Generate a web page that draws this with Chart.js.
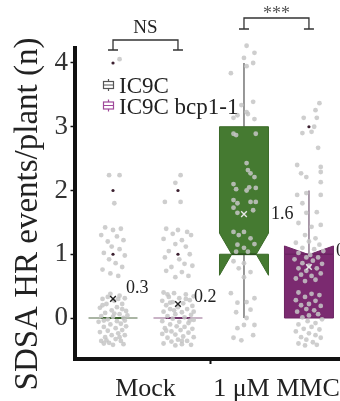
<!DOCTYPE html>
<html>
<head>
<meta charset="utf-8">
<script src="https://cdn.jsdelivr.net/npm/chart.js@4.4.0/dist/chart.umd.min.js"></script>
<style>
  html, body { margin: 0; padding: 0; background: #fff; overflow: hidden; }
  #wrap { width: 340px; height: 401px; overflow: hidden; }
</style>
</head>
<body>
<div id="wrap"><canvas id="chart" width="360" height="401"></canvas></div>
<script>
const categories = ["Mock", "1 \u03bcM MMC"];
const seriesNames = ["IC9C", "IC9C bcp1-1"];
const yTicks = [0, 1, 2, 3, 4];

// one entry per box: Mock/IC9C, Mock/bcp1-1, MMC/IC9C, MMC/bcp1-1
const boxCat = [1, 1, 2, 2];
const boxSeries = [0, 1, 0, 1];
const q1 = [0, 0, 1, 0];
const median = [0, 0, 1, 1];
const q3 = [0, 0, 3, 1];
const notchLo = [0, 0, 0.67, 1];
const notchHi = [0, 0, 1.33, 1.13];
const whiskerLo = [0, 0, 0, 0];
const whiskerHi = [0, 0, 4, 2];
const means = [0.3, 0.22, 1.63, 0.8];

// dark percentile markers
const markBox = [0, 0, 0, 1, 1, 3];
const markValue = [4, 2, 1, 2, 1, 3];

// significance brackets
const sigText = ["NS", "***"];
const sigPairs = [[0, 1], [2, 3]];

// raw plants: [jitter, events]
const ptsMockIC9C = [
  [0.05,4.06],
  [-0.03,2.24],[0.05,2.24],[0.01,1.80],
  [-0.06,1.42],[0.00,1.38],[0.06,1.40],[-0.09,1.30],[0.03,1.28],[-0.04,1.20],[0.08,1.22],[-0.01,1.12],
  [0.05,1.08],[-0.07,1.02],[0.09,0.98],[-0.03,0.92],[0.02,0.86],[0.07,0.80],[-0.08,0.76],[-0.02,0.70],[0.04,0.66],
  [-0.02,0.38],[0.05,0.35],[-0.08,0.30],[0.09,0.31],[0.01,0.27],[-0.05,0.22],[0.07,0.22],[-0.10,0.16],
  [0.03,0.17],[-0.01,0.12],[0.10,0.11],[-0.06,0.08],[0.05,0.06],[-0.09,0.03],[0.00,0.02],[0.08,0.00],
  [-0.04,-0.02],[0.03,-0.05],[-0.11,-0.06],[0.06,-0.09],[-0.02,-0.10],[0.10,-0.13],[-0.07,-0.14],[0.02,-0.16],
  [-0.04,-0.20],[0.07,-0.19],[-0.10,-0.22],[0.04,-0.24],[-0.01,-0.27],[0.09,-0.27],[-0.06,-0.30],[0.02,-0.33],
  [-0.09,-0.36],[0.06,-0.36],[-0.03,-0.39],[0.08,-0.41],[0.00,-0.42],[-0.07,-0.40],[0.04,0.30],[-0.04,0.33],
  [0.07,0.14],[-0.07,-0.04],[0.05,-0.30],[-0.08,0.20],[0.11,0.04],[-0.05,-0.35],[0.01,0.07],[0.09,-0.04]
];
const ptsMockBcp = [
  [0.02,2.24],[-0.02,2.12],[-0.10,1.82],[0.02,1.82],
  [-0.09,1.40],[0.00,1.38],[0.07,1.35],[-0.04,1.32],[0.10,1.30],[-0.11,1.24],[0.03,1.22],[-0.02,1.16],
  [0.06,1.12],[-0.07,1.05],[0.09,1.00],[-0.10,0.95],[0.01,0.92],[0.05,0.85],[-0.05,0.80],[0.11,0.82],
  [-0.09,0.74],[0.03,0.72],[0.08,0.66],[-0.02,0.64],
  [-0.11,0.40],[-0.03,0.39],[0.06,0.37],[0.12,0.34],[-0.07,0.33],[0.01,0.31],[-0.12,0.27],[0.09,0.28],
  [-0.04,0.25],[0.04,0.23],[-0.09,0.20],[0.11,0.19],[0.00,0.17],[-0.06,0.14],[0.07,0.14],[-0.11,0.10],
  [0.03,0.09],[-0.02,0.06],[0.10,0.05],[-0.08,0.03],[0.05,0.01],[-0.04,-0.01],[0.12,-0.03],[-0.12,-0.05],
  [0.01,-0.06],[0.08,-0.08],[-0.06,-0.10],[-0.01,-0.13],[0.05,-0.14],[-0.10,-0.16],[0.11,-0.17],[0.02,-0.19],
  [-0.05,-0.21],[0.08,-0.23],[-0.12,-0.25],[-0.02,-0.26],[0.04,-0.29],[0.12,-0.30],[-0.08,-0.31],[0.00,-0.34],
  [0.07,-0.36],[-0.05,-0.37],[-0.11,-0.40],[0.03,-0.41],[0.10,-0.42],[-0.02,-0.43],[0.06,0.30],[-0.08,0.37],
  [0.09,-0.04],[-0.03,0.12],[0.03,-0.36],[-0.09,-0.20],[0.12,0.10],[-0.06,0.24]
];
const ptsMmcIC9C = [
  [0.02,4.27],[0.08,4.16],[0.00,4.08],[0.07,4.00],[0.02,3.95],[-0.10,3.84],
  [-0.02,3.34],[0.07,3.39],[0.02,3.23],[-0.08,3.14],[-0.05,3.18],[0.03,3.20],[0.08,3.12],
  [-0.08,2.89],[-0.06,2.87],[0.09,2.89],
  [0.02,2.43],[0.03,2.32],[0.05,2.27],[0.08,2.21],[-0.08,2.10],[0.04,2.05],[0.09,2.04],[-0.06,2.02],[0.02,2.00],
  [-0.08,1.85],[-0.05,1.80],[0.05,1.82],[0.09,1.82],[-0.08,1.73],[-0.05,1.65],[0.07,1.69],
  [-0.08,1.35],[-0.04,1.30],[0.00,1.35],[0.05,1.25],[-0.05,1.15],[0.00,1.10],[-0.06,1.04],[0.03,1.04],[0.08,1.16],
  [-0.08,0.89],[0.00,0.86],[0.05,0.72],[0.00,0.64],[-0.04,0.78],
  [-0.10,0.39],[-0.05,0.24],[0.02,0.25],[0.08,0.31],[-0.06,0.09],[0.05,0.13],[0.02,0.00],[0.00,-0.11],
  [0.08,-0.11],[-0.08,-0.31],[0.07,-0.27],[-0.05,-0.16],[-0.02,-0.35]
];
const ptsMmcBcp = [
  [0.08,3.37],[0.05,3.26],[-0.04,3.14],[0.06,3.14],[0.04,3.00],[-0.05,2.90],[0.02,2.92],[0.07,2.67],
  [-0.09,2.40],[0.09,2.37],[-0.06,2.27],[-0.02,2.21],[0.09,2.29],[0.09,2.13],
  [-0.09,1.93],[-0.02,1.96],[0.09,1.93],[-0.05,1.80],[-0.02,1.65],[0.06,1.66],[-0.08,1.49],[0.02,1.43],
  [0.09,1.46],[-0.03,1.30],[0.05,1.25],
  [-0.10,1.18],[0.00,1.20],[0.08,1.15],[-0.05,1.10],[0.04,1.08],[0.11,1.05],[-0.08,1.02],[0.01,0.99],
  [-0.02,0.95],[0.07,0.95],[-0.11,0.92],[0.03,0.90],[-0.05,0.86],[0.10,0.85],[0.00,0.82],[-0.08,0.78],
  [0.06,0.78],[-0.02,0.74],[0.09,0.70],[-0.06,0.68],[0.02,0.66],[-0.10,0.62],[0.05,0.60],[-0.03,0.58],
  [-0.08,0.40],[0.02,0.38],[0.08,0.36],[-0.03,0.33],[-0.10,0.28],[0.05,0.27],[0.00,0.22],[-0.06,0.20],
  [0.09,0.19],[-0.02,0.14],[0.04,0.12],[-0.09,0.10],[0.07,0.06],[0.00,0.04],[-0.05,0.01],[0.10,-0.02],
  [-0.01,-0.05],[0.05,-0.08],[-0.08,-0.10],[0.02,-0.14],[-0.04,-0.17],[0.08,-0.18],[-0.10,-0.21],[0.00,-0.24],
  [0.05,-0.27],[-0.06,-0.30],[0.09,-0.31],[-0.02,-0.34],[0.03,-0.38],[-0.08,-0.40],[0.06,-0.42],[-0.03,-0.43]
];
const points = [ptsMockIC9C, ptsMockBcp, ptsMmcIC9C, ptsMmcBcp];

// styling
const FONT = '"Liberation Serif", "Times New Roman", serif';
const offset = 0.248, halfW = 0.187;
const notchW = [0.5, 0.5, 0.5, 0.95];
const boxFill = ["#dfe6da", "#e8dce6", "#457a31", "#7b2a70"];
const boxEdge = ["#8e9c86", "#b79ab3", "#3b6a29", "#6c2462"];
const medColor = ["#2f5a20", "#6a2a62", "#2c5220", "#5a1a52"];
const whiskerColor = ["#777", "#8f7a8f", "#767676", "#8f7a8f"];
const meanColor = ["#222", "#222", "#e6e6e6", "#e6e6e6"];
const labelDx = [13, 16, 27, 27];
const labelDy = [-11, -7, 0, -16];
const legendColor = ["#555", "#a0489a"];

function boxX(i) {
  return boxCat[i] + (boxSeries[i] === 0 ? -offset : offset);
}

const jitterData = [];
points.forEach((arr, i) => arr.forEach(p => jitterData.push({ x: boxX(i) + p[0], y: p[1] })));

const boxPlugin = {
  id: "boxes",
  beforeDatasetsDraw(chart) {
    const ctx = chart.ctx, xs = chart.scales.x, ys = chart.scales.y;
    for (let i = 0; i < boxCat.length; i++) {
      const cx = xs.getPixelForValue(boxX(i));
      const L = xs.getPixelForValue(boxX(i) - halfW);
      const R = xs.getPixelForValue(boxX(i) + halfW);
      const n = (R - L) / 2 * notchW[i];
      ctx.save();
      ctx.lineWidth = 1.5;
      ctx.strokeStyle = whiskerColor[i];
      ctx.beginPath();
      ctx.moveTo(cx, ys.getPixelForValue(q3[i]));
      ctx.lineTo(cx, ys.getPixelForValue(whiskerHi[i]));
      ctx.moveTo(cx, ys.getPixelForValue(q1[i]));
      ctx.lineTo(cx, ys.getPixelForValue(whiskerLo[i]));
      ctx.stroke();

      const yp = v => ys.getPixelForValue(v);
      if (q3[i] > q1[i]) {
        ctx.beginPath();
        ctx.moveTo(L, yp(q1[i]));
        ctx.lineTo(L, yp(notchLo[i]));
        ctx.lineTo(L + n, yp(median[i]));
        ctx.lineTo(L, yp(notchHi[i]));
        ctx.lineTo(L, yp(q3[i]));
        ctx.lineTo(R, yp(q3[i]));
        ctx.lineTo(R, yp(notchHi[i]));
        ctx.lineTo(R - n, yp(median[i]));
        ctx.lineTo(R, yp(notchLo[i]));
        ctx.lineTo(R, yp(q1[i]));
        ctx.closePath();
        ctx.fillStyle = boxFill[i];
        ctx.fill();
        ctx.lineWidth = 1;
        ctx.strokeStyle = boxEdge[i];
        ctx.stroke();
      } else {
        ctx.lineWidth = 1.5;
        ctx.strokeStyle = boxEdge[i];
        ctx.beginPath();
        ctx.moveTo(L, yp(median[i]));
        ctx.lineTo(R, yp(median[i]));
        ctx.stroke();
      }
      ctx.lineWidth = 1.8;
      ctx.strokeStyle = medColor[i];
      ctx.beginPath();
      ctx.moveTo(L + n, yp(median[i]));
      ctx.lineTo(R - n, yp(median[i]));
      ctx.stroke();
      ctx.restore();
    }
  },
  afterDraw(chart) {
    const ctx = chart.ctx, xs = chart.scales.x, ys = chart.scales.y, area = chart.chartArea;
    ctx.save();
    // mean labels
    ctx.fillStyle = "#222";
    ctx.font = "18px " + FONT;
    ctx.textAlign = "left";
    ctx.textBaseline = "middle";
    for (let i = 0; i < means.length; i++) {
      const px = xs.getPixelForValue(boxX(i)) + labelDx[i];
      const py = ys.getPixelForValue(means[i]) + labelDy[i];
      ctx.fillText(means[i].toFixed(1), px, py);
    }
    // significance brackets
    const tops = [40, 18];
    const drops = [10, 11];
    sigPairs.forEach((pair, k) => {
      const a = xs.getPixelForValue(boxX(pair[0]));
      const b = xs.getPixelForValue(boxX(pair[1]));
      const t = tops[k], d = t + drops[k];
      ctx.strokeStyle = "#333";
      ctx.lineWidth = 1.3;
      ctx.beginPath();
      ctx.moveTo(a, d); ctx.lineTo(a, t); ctx.lineTo(b, t); ctx.lineTo(b, d);
      ctx.moveTo(a - 5, d); ctx.lineTo(a + 5, d);
      ctx.moveTo(b - 5, d); ctx.lineTo(b + 5, d);
      ctx.stroke();
      ctx.textAlign = "center";
      ctx.textBaseline = "alphabetic";
      ctx.fillStyle = k === 0 ? "#222" : "#555";
      ctx.font = (k === 0 ? "19px " : "18px ") + FONT;
      ctx.fillText(sigText[k], (a + b) / 2, k === 0 ? t - 7 : t + 1);
    });
    // legend
    seriesNames.forEach((name, k) => {
      const lx = area.left + 34, ly = area.top + 37 + k * 20.5;
      ctx.strokeStyle = legendColor[k];
      ctx.lineWidth = 1.2;
      ctx.strokeRect(lx - 5, ly - 3.5, 10, 7);
      ctx.beginPath();
      ctx.moveTo(lx - 5, ly); ctx.lineTo(lx + 5, ly);
      ctx.moveTo(lx, ly - 3.5); ctx.lineTo(lx, ly - 6);
      ctx.moveTo(lx, ly + 3.5); ctx.lineTo(lx, ly + 6);
      ctx.stroke();
      ctx.fillStyle = "#222";
      ctx.font = "23px " + FONT;
      ctx.textAlign = "left";
      ctx.textBaseline = "alphabetic";
      ctx.fillText(name, lx + 10.5, ly + 8);
    });
    // y axis title
    ctx.translate(37, 214);
    ctx.rotate(-Math.PI / 2);
    ctx.fillStyle = "#222";
    ctx.font = "33px " + FONT;
    ctx.textAlign = "center";
    ctx.textBaseline = "alphabetic";
    ctx.fillText("SDSA HR events/plant (n)", 0, 0);
    ctx.restore();
  }
};

new Chart(document.getElementById("chart"), {
  type: "scatter",
  data: {
    datasets: [
      {
        label: "mean",
        data: means.map((m, i) => ({ x: boxX(i), y: m })),
        pointStyle: "crossRot",
        pointRadius: 4,
        pointBorderWidth: 1.4,
        pointBorderColor: meanColor,
        pointBackgroundColor: meanColor,
        clip: false
      },
      {
        label: "percentiles",
        data: markBox.map((b, i) => ({ x: boxX(b), y: markValue[i] })),
        pointRadius: 1.6,
        pointBorderWidth: 0,
        pointBackgroundColor: "#3c2030",
        clip: false
      },
      {
        label: "plants",
        data: jitterData,
        pointRadius: 2.4,
        pointBorderWidth: 0,
        pointBackgroundColor: "rgba(198,198,198,0.85)",
        clip: false
      }
    ]
  },
  options: {
    responsive: false,
    animation: false,
    layout: { padding: { top: 48, right: 11.5, left: 0, bottom: 0 } },
    plugins: { legend: { display: false }, tooltip: { enabled: false } },
    scales: {
      x: {
        type: "linear",
        min: 0.458,
        max: 2.55,
        afterFit: s => { s.height = 42; },
        afterBuildTicks: s => { s.ticks = [1, 1.5, 2].map(v => ({ value: v })); },
        border: { display: true, color: "#111", width: 4 },
        grid: {
          drawOnChartArea: false,
          drawTicks: true,
          tickLength: 5,
          tickWidth: 2,
          tickColor: c => (c.tick && c.tick.value === 1.5 ? "#111" : "rgba(0,0,0,0)")
        },
        ticks: {
          padding: 10,
          maxRotation: 0,
          autoSkip: false,
          color: "#222",
          font: { family: FONT, size: 26 },
          callback: v => (v === 1 ? categories[0] : v === 2 ? categories[1] : "")
        }
      },
      y: {
        min: -0.643,
        max: 4.235,
        afterFit: s => { s.width = 74.5; },
        afterBuildTicks: s => { s.ticks = yTicks.map(v => ({ value: v })); },
        border: { display: true, color: "#111", width: 4 },
        grid: { drawOnChartArea: false, drawTicks: true, tickLength: 4, tickWidth: 1.5, tickColor: "#111" },
        ticks: { padding: 2.5, color: "#333", font: { family: FONT, size: 27 } }
      }
    }
  },
  plugins: [boxPlugin]
});
</script>
</body>
</html>
